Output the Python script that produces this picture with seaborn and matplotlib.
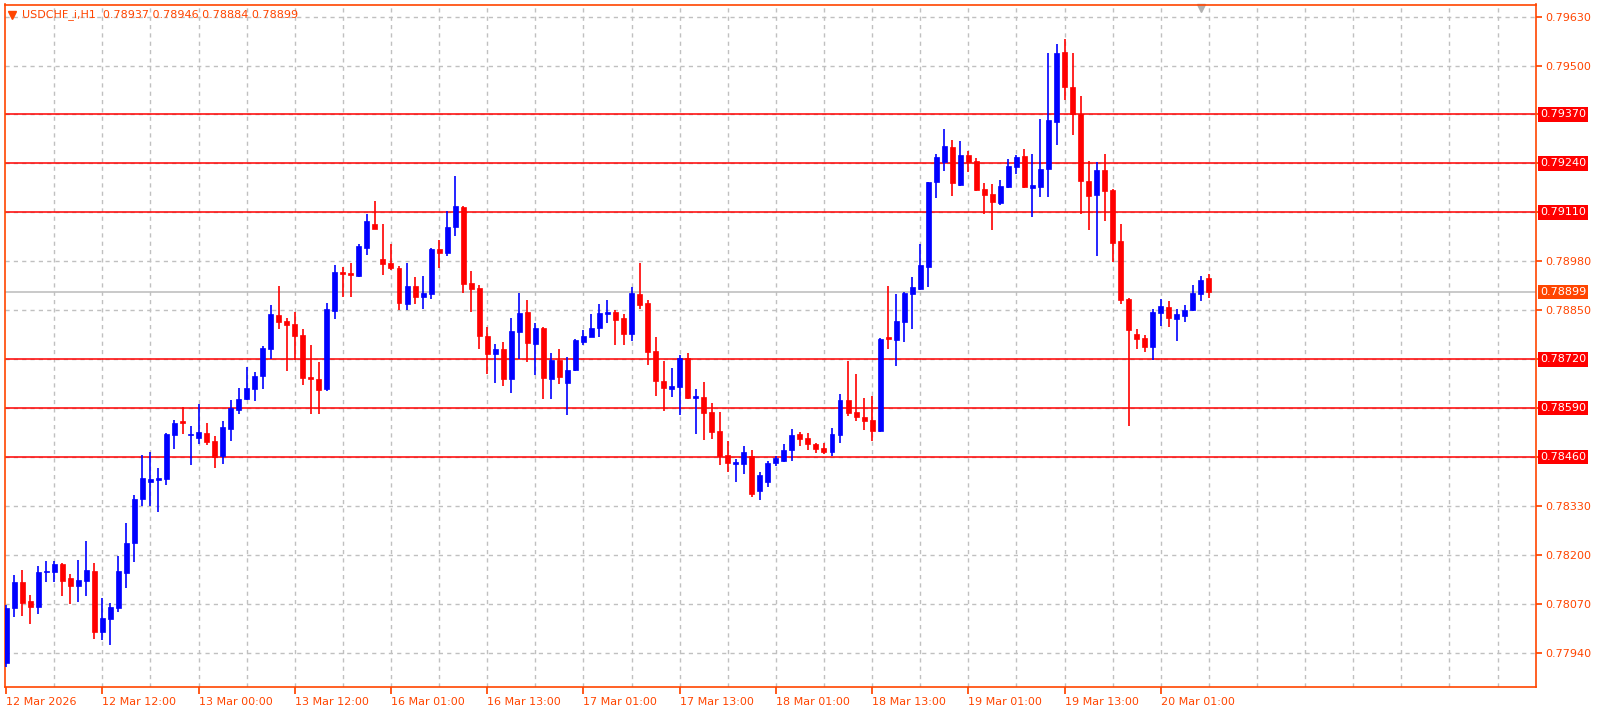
import matplotlib
matplotlib.use("Agg")
import matplotlib.pyplot as plt
import seaborn as sns
import numpy as np
import pandas as pd
from matplotlib.transforms import ScaledTranslation

opens = [0.77914,0.78060,0.78129,0.78078,0.78062,0.78156,0.78156,0.78177,0.78139,0.78118,
0.78131,0.78158,0.77996,0.78030,0.78060,0.78153,0.78233,0.78350,0.78395,0.78400,
0.78403,0.78520,0.78556,0.78520,0.78511,0.78525,0.78503,0.78463,0.78535,0.78585,
0.78615,0.78641,0.78676,0.78748,0.78838,0.78822,0.78814,0.78785,0.78673,0.78668,
0.78641,0.78849,0.78952,0.78950,0.78942,0.79016,0.79078,0.78987,0.78976,0.78963,
0.78867,0.78915,0.78886,0.78894,0.79014,0.79003,0.79070,0.79125,0.78923,0.78910,
0.78782,0.78734,0.78748,0.78668,0.78793,0.78846,0.78761,0.78804,0.78668,0.78719,
0.78657,0.78692,0.78766,0.78780,0.78804,0.78841,0.78846,0.78830,0.78788,0.78894,
0.78870,0.78742,0.78663,0.78641,0.78647,0.78724,0.78617,0.78620,0.78580,0.78530,
0.78466,0.78442,0.78442,0.78463,0.78371,0.78394,0.78444,0.78450,0.78479,0.78522,
0.78511,0.78495,0.78485,0.78474,0.78520,0.78612,0.78580,0.78567,0.78559,0.78530,
0.78780,0.78772,0.78820,0.78894,0.78907,0.78966,0.79190,0.79244,0.79284,0.79183,
0.79263,0.79247,0.79173,0.79160,0.79136,0.79178,0.79231,0.79260,0.79175,0.79178,
0.79226,0.79351,0.79537,0.79444,0.79372,0.79194,0.79157,0.79223,0.79170,0.79035,
0.78881,0.78788,0.78777,0.78753,0.78844,0.78859,0.78828,0.78835,0.78851,0.78894,
0.78937]
highs = [0.78068,0.78148,0.78161,0.78095,0.78172,0.78185,0.78185,0.78180,0.78150,0.78188,
0.78238,0.78180,0.78086,0.78073,0.78198,0.78286,0.78360,0.78466,0.78474,0.78432,
0.78525,0.78559,0.78593,0.78543,0.78601,0.78551,0.78516,0.78556,0.78612,0.78644,
0.78700,0.78686,0.78756,0.78865,0.78915,0.78830,0.78846,0.78801,0.78758,0.78713,
0.78870,0.78971,0.78966,0.78977,0.79027,0.79107,0.79141,0.79080,0.79025,0.78968,
0.78976,0.78939,0.78942,0.79016,0.79038,0.79115,0.79207,0.79128,0.78955,0.78918,
0.78806,0.78761,0.78766,0.78830,0.78897,0.78878,0.78817,0.78806,0.78737,0.78748,
0.78727,0.78774,0.78798,0.78841,0.78867,0.78878,0.78851,0.78841,0.78913,0.78976,
0.78878,0.78780,0.78716,0.78697,0.78732,0.78737,0.78641,0.78660,0.78604,0.78580,
0.78503,0.78455,0.78490,0.78479,0.78421,0.78450,0.78463,0.78495,0.78535,0.78527,
0.78525,0.78498,0.78498,0.78538,0.78628,0.78716,0.78681,0.78617,0.78623,0.78777,
0.78915,0.78894,0.78899,0.78939,0.79027,0.79192,0.79265,0.79332,0.79303,0.79300,
0.79274,0.79255,0.79189,0.79186,0.79197,0.79253,0.79263,0.79279,0.79266,0.79359,
0.79532,0.79558,0.79571,0.79532,0.79420,0.79247,0.79245,0.79266,0.79172,0.79080,
0.78883,0.78801,0.78785,0.78854,0.78881,0.78875,0.78854,0.78865,0.78918,0.78942,
0.78946]
lows = [0.77903,0.78036,0.78038,0.78017,0.78044,0.78129,0.78129,0.78092,0.78070,0.78076,
0.78092,0.77977,0.77975,0.77961,0.78049,0.78113,0.78182,0.78331,0.78331,0.78315,
0.78387,0.78482,0.78522,0.78439,0.78495,0.78493,0.78431,0.78442,0.78503,0.78575,
0.78612,0.78609,0.78641,0.78721,0.78801,0.78689,0.78719,0.78652,0.78575,0.78575,
0.78636,0.78828,0.78886,0.78886,0.78939,0.78998,0.79065,0.78945,0.78958,0.78851,
0.78851,0.78867,0.78854,0.78881,0.78963,0.78993,0.79048,0.78897,0.78846,0.78748,
0.78681,0.78657,0.78649,0.78631,0.78721,0.78713,0.78679,0.78615,0.78615,0.78655,
0.78572,0.78689,0.78758,0.78778,0.78778,0.78817,0.78758,0.78758,0.78769,0.78854,
0.78705,0.78623,0.78583,0.78620,0.78572,0.78615,0.78522,0.78506,0.78509,0.78439,
0.78421,0.78394,0.78415,0.78354,0.78347,0.78381,0.78437,0.78447,0.78450,0.78490,
0.78479,0.78471,0.78469,0.78463,0.78498,0.78570,0.78556,0.78532,0.78503,0.78527,
0.78748,0.78703,0.78766,0.78801,0.78905,0.78913,0.79148,0.79220,0.79154,0.79180,
0.79218,0.79167,0.79106,0.79064,0.79130,0.79176,0.79213,0.79176,0.79098,0.79151,
0.79151,0.79290,0.79409,0.79316,0.79106,0.79064,0.78995,0.79088,0.78979,0.78867,
0.78543,0.78748,0.78740,0.78719,0.78809,0.78806,0.78769,0.78820,0.78849,0.78875,
0.78884]
closes = [0.78060,0.78129,0.78073,0.78062,0.78156,0.78159,0.78177,0.78131,0.78118,0.78134,
0.78161,0.77996,0.78033,0.78062,0.78158,0.78233,0.78350,0.78405,0.78403,0.78405,
0.78522,0.78551,0.78551,0.78523,0.78527,0.78501,0.78460,0.78540,0.78591,0.78615,
0.78644,0.78676,0.78750,0.78841,0.78820,0.78812,0.78782,0.78671,0.78668,0.78639,
0.78854,0.78952,0.78947,0.78944,0.79022,0.79086,0.79067,0.78974,0.78963,0.78870,
0.78915,0.78886,0.78897,0.79014,0.79001,0.79070,0.79128,0.78921,0.78907,0.78782,
0.78734,0.78748,0.78668,0.78796,0.78844,0.78764,0.78804,0.78671,0.78719,0.78673,
0.78692,0.78772,0.78782,0.78804,0.78844,0.78845,0.78825,0.78788,0.78897,0.78865,
0.78740,0.78663,0.78644,0.78649,0.78724,0.78617,0.78623,0.78578,0.78527,0.78463,
0.78445,0.78447,0.78474,0.78362,0.78413,0.78444,0.78457,0.78479,0.78520,0.78509,
0.78495,0.78482,0.78474,0.78522,0.78612,0.78578,0.78567,0.78556,0.78530,0.78774,
0.78774,0.78822,0.78897,0.78913,0.78971,0.79190,0.79257,0.79287,0.79188,0.79263,
0.79244,0.79170,0.79157,0.79138,0.79181,0.79234,0.79258,0.79178,0.79183,0.79226,
0.79356,0.79534,0.79444,0.79372,0.79194,0.79154,0.79223,0.79167,0.79029,0.78878,
0.78798,0.78774,0.78753,0.78846,0.78862,0.78830,0.78841,0.78851,0.78897,0.78931,
0.78899]

level_lines = [0.7937, 0.7924, 0.7911, 0.7872, 0.7859, 0.7846]
price_ticks = [0.7963, 0.7950, 0.7937, 0.7924, 0.7911, 0.7898, 0.7885, 0.7872,
               0.7859, 0.7846, 0.7833, 0.7820, 0.7807, 0.7794]
time_labels = ["12 Mar 2026", "12 Mar 12:00", "13 Mar 00:00", "13 Mar 12:00",
               "16 Mar 01:00", "16 Mar 13:00", "17 Mar 01:00", "17 Mar 13:00",
               "18 Mar 01:00", "18 Mar 13:00", "19 Mar 01:00", "19 Mar 13:00",
               "20 Mar 01:00"]
symbol = "USDCHF_i,H1"

sns.set_theme(style="white")
plt.rcParams['font.family'] = ['DejaVu Sans']

W, H = 1601, 713
fig = plt.figure(figsize=(W/100, H/100), dpi=100)
fig.patch.set_facecolor("white")
ax = fig.add_axes([4.5/W, (H-687)/H, (1536-4.5)/W, (687-4.5)/H])
ORANGE = "#ff4500"

df = pd.DataFrame({"o": opens, "h": highs, "l": lows, "c": closes})
df["i"] = np.arange(len(df))
up = df["c"] >= df["o"]
colors = np.where(up, "#0000ff", "#ff0000")

ax.vlines(df["i"], df["l"], df["h"], colors=colors, linewidth=1.2, zorder=3)
bottoms = np.minimum(df["o"], df["c"])
heights = np.maximum(np.abs(df["c"] - df["o"]), 0.000015)
ax.bar(df["i"], heights, bottom=bottoms, width=0.62, color=colors,
       edgecolor=colors, linewidth=0.5, zorder=4)

ax.set_xlim(-0.2, 190.8)
ax.set_ylim(0.77850, 0.79662)

for gx in range(6, 192, 6):
    ax.axvline(gx, color="#c0c0c0", linestyle=(0, (3, 3)), linewidth=1, zorder=1)
for p in price_ticks:
    ax.axhline(p, color="#c0c0c0", linestyle=(0, (3, 3)), linewidth=1, zorder=1)

for lv in level_lines:
    ax.axhline(lv, color="#ff0000", linewidth=1.1, zorder=2)
last = closes[-1]
ax.axhline(last, color="#c0c0c0", linewidth=1.2, zorder=2)

for s in ax.spines.values():
    s.set_color(ORANGE)
    s.set_linewidth(1.2)

ax.set_xticks(list(range(0, 12 * len(time_labels), 12)))
ax.set_xticklabels(time_labels, ha="left", fontsize=8, color=ORANGE)
for lab in ax.get_xticklabels():
    lab.set_transform(lab.get_transform() + ScaledTranslation(2/100, 0, fig.dpi_scale_trans))
ax.tick_params(axis="x", length=5, color=ORANGE, pad=2, bottom=True)
ax.yaxis.tick_right()
ax.set_yticks(price_ticks)
ax.set_yticklabels(["" if any(abs(p - lv) < 1e-7 for lv in level_lines) else f"{p:.5f}"
                    for p in price_ticks], fontsize=8, color=ORANGE)
ax.tick_params(axis="y", length=4, color=ORANGE, right=True, pad=3)

trans = ax.get_yaxis_transform()
for lv in level_lines:
    ax.text(1.0 + 4/1531, lv, f"{lv:.5f}", transform=trans, fontsize=8, color="white",
            va="center", ha="left",
            bbox=dict(boxstyle="square,pad=0.2", fc="#ff0000", ec="none"), zorder=10, clip_on=False)
ax.text(1.0 + 4/1531, last, f"{last:.5f}", transform=trans, fontsize=8, color="white",
        va="center", ha="left",
        bbox=dict(boxstyle="square,pad=0.2", fc=ORANGE, ec="none"), zorder=10, clip_on=False)

ax.plot([7.5/1531], [0.985], marker="v", color=ORANGE, markersize=6,
        transform=ax.transAxes, clip_on=False)
ax.text(17/1531, 0.985, f"{symbol}  {opens[-1]:.5f} {highs[-1]:.5f} {lows[-1]:.5f} {closes[-1]:.5f}",
        transform=ax.transAxes, fontsize=8, color=ORANGE, va="center", ha="left")
ax.plot([(1201-4.5)/1531], [0.995], marker="v", color="#b0b0b0", markersize=6,
        transform=ax.transAxes, clip_on=False)

fig.savefig("out.png", dpi=100, facecolor="white")
